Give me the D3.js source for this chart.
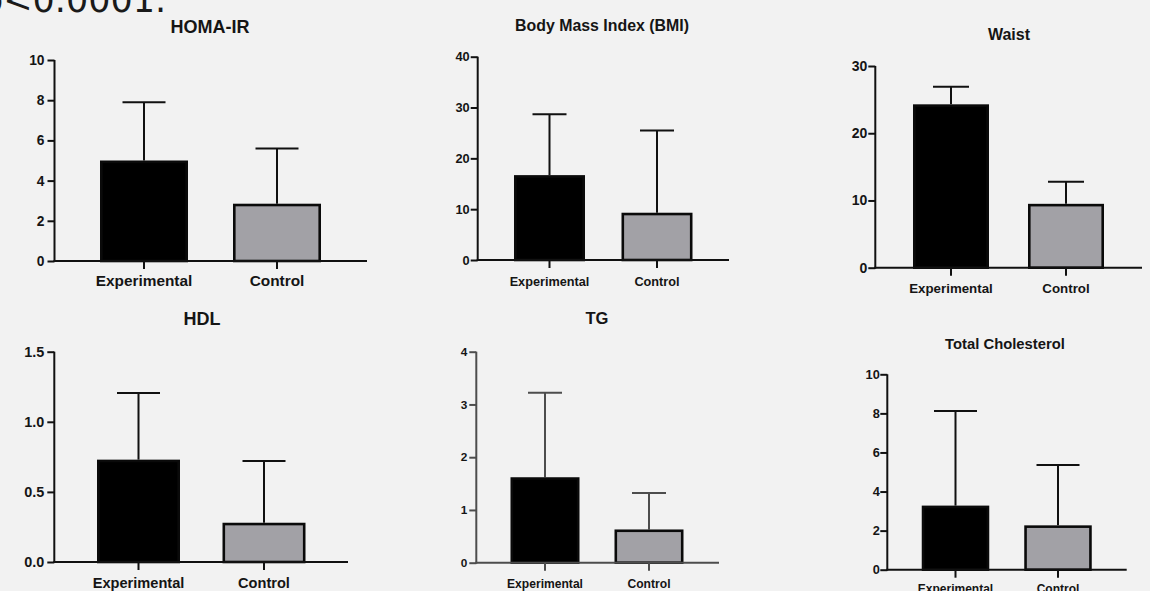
<!DOCTYPE html>
<html>
<head>
<meta charset="utf-8">
<script src="https://cdn.jsdelivr.net/npm/d3@7"></script>
<style>
  html, body { margin: 0; padding: 0; background: #f2f2f2; overflow: hidden; }
  svg { display: block; }
  text { font-family: "Liberation Sans", Arial, Helvetica, sans-serif; font-weight: bold; }
</style>
</head>
<body>
<svg id="chart" width="1150" height="591"></svg>
<script>
// ---------------- data ----------------
const titles = ["HOMA-IR", "Body Mass Index (BMI)", "Waist", "HDL", "TG", "Total Cholesterol"];
const groups = ["Experimental", "Control"];
const meanExperimental = [5.0, 16.7, 24.3, 0.73, 1.62, 3.28];
const meanControl      = [2.85, 9.3, 9.5, 0.28, 0.63, 2.27];
const sdExperimental   = [2.9, 12.0, 2.6, 0.475, 1.6, 4.84];
const sdControl        = [2.75, 16.2, 3.3, 0.44, 0.69, 3.09];
const yMax = [10, 40, 30, 1.5, 4, 10];
const yTicks = [
  [0, 2, 4, 6, 8, 10],
  [0, 10, 20, 30, 40],
  [0, 10, 20, 30],
  [0.0, 0.5, 1.0, 1.5],
  [0, 1, 2, 3, 4],
  [0, 2, 4, 6, 8, 10]
];
const tickFormats = ["d", "d", "d", ".1f", "d", "d"];
const note = "p<0.0001.";

// ---------------- layout (pixel geometry per panel) ----------------
const layout = [
  {ax: 54.5, top: 60,    base: 261,   xEnd: 367,   c: [144, 277],    w: 88, cap: 43, title: [210, 33, 18], cat: [286, 15.4], tick: [13.8, 3], ink: "#111"},
  {ax: 477.7, top: 56.7, base: 260,   xEnd: 729,   c: [549.5, 657],  w: 71, cap: 34, title: [602, 31, 15.9], cat: [286, 12.7], tick: [12.8, 1], ink: "#111"},
  {ax: 875.3, top: 66,   base: 267.7, xEnd: 1142,  c: [951, 1066],   w: 76, cap: 36, title: [1009, 40, 16], cat: [292.7, 13.3], tick: [14, 1], ink: "#111"},
  {ax: 54.3, top: 351.7, base: 562,   xEnd: 348,   c: [138.5, 264],  w: 83, cap: 43, title: [202, 325, 18], cat: [588, 14.6], tick: [14.4, 3], ink: "#111"},
  {ax: 476.3, top: 351.7,base: 562.7, xEnd: 719,   c: [545, 649],    w: 69, cap: 34, title: [597, 324, 16.6], cat: [588, 12.1], tick: [11.8, 2], ink: "#4d4d4d"},
  {ax: 887.3, top: 374.3,base: 569.7, xEnd: 1126.7,c: [955.5, 1058], w: 67.5, cap: 43, title: [1005, 349, 14.8], cat: [593, 12], tick: [12.8, 0.5], ink: "#111"}
];

const fills = {"Experimental": "#000000", "Control": "#a2a1a6"};
const svg = d3.select("#chart");

svg.append("text")
  .attr("x", -19).attr("y", 12)
  .style("font-family", "'DejaVu Sans', sans-serif")
  .style("font-weight", "normal")
  .style("font-size", "35px")
  .attr("fill", "#1a1a1a")
  .text(note);

titles.forEach((title, i) => {
  const L = layout[i];
  const g = svg.append("g");
  const step = L.c[1] - L.c[0];
  const pin = 1 - L.w / step;
  const x = d3.scaleBand().domain(groups)
    .range([L.c[0] - step / 2, L.c[1] + step / 2])
    .paddingInner(pin).paddingOuter(pin / 2);
  const y = d3.scaleLinear().domain([0, yMax[i]]).range([L.base, L.top]);

  const means = [meanExperimental[i], meanControl[i]];
  const sds = [sdExperimental[i], sdControl[i]];
  const rows = groups.map((gname, k) => ({g: gname, m: means[k], sd: sds[k]}));

  const sw = 2.6;
  // error bars (upper only)
  rows.forEach(r => {
    const cx = x(r.g) + x.bandwidth() / 2;
    g.append("line")
      .attr("x1", cx).attr("x2", cx)
      .attr("y1", y(r.m)).attr("y2", y(r.m + r.sd))
      .attr("stroke", L.ink).attr("stroke-width", 2);
    g.append("line")
      .attr("x1", cx - L.cap / 2).attr("x2", cx + L.cap / 2)
      .attr("y1", y(r.m + r.sd)).attr("y2", y(r.m + r.sd))
      .attr("stroke", L.ink).attr("stroke-width", 2);
  });

  // bars
  g.selectAll("rect.bar").data(rows).join("rect")
    .attr("class", "bar")
    .attr("x", d => x(d.g) + sw / 2)
    .attr("width", x.bandwidth() - sw)
    .attr("y", d => y(d.m) + sw / 2)
    .attr("height", d => y(0) - y(d.m) - sw / 2)
    .attr("fill", d => fills[d.g])
    .attr("stroke", "#0a0a0a")
    .attr("stroke-width", sw);

  // y axis
  const yAxis = d3.axisLeft(y).tickValues(yTicks[i])
    .tickFormat(d3.format(tickFormats[i]))
    .tickSize(7).tickSizeOuter(0).tickPadding(L.tick[1]);
  const ya = g.append("g").attr("transform", `translate(${L.ax},0)`).call(yAxis);
  ya.select(".domain").attr("stroke", L.ink).attr("stroke-width", 2)
    .attr("d", `M0,${L.base + 1}V${L.top}`);
  ya.selectAll(".tick line").attr("stroke", L.ink).attr("stroke-width", 2);
  ya.selectAll(".tick text")
    .style("font-size", L.tick[0] + "px").attr("fill", "#151515")
    .attr("font-family", null);

  // x axis
  const xAxis = d3.axisBottom(x).tickSize(8).tickSizeOuter(0).tickFormat("");
  const xa = g.append("g").attr("transform", `translate(0,${L.base})`).call(xAxis);
  xa.select(".domain").attr("stroke", L.ink).attr("stroke-width", 2)
    .attr("d", `M${L.ax - 1},0H${L.xEnd}`);
  xa.selectAll(".tick line").attr("stroke", L.ink).attr("stroke-width", 2);

  // category labels
  g.selectAll("text.cat").data(groups).join("text")
    .attr("class", "cat")
    .attr("x", d => x(d) + x.bandwidth() / 2)
    .attr("y", L.cat[0])
    .attr("text-anchor", "middle")
    .style("font-size", L.cat[1] + "px")
    .attr("fill", "#151515")
    .text(d => d);

  // title
  g.append("text")
    .attr("x", L.title[0]).attr("y", L.title[1])
    .attr("text-anchor", "middle")
    .style("font-size", L.title[2] + "px")
    .attr("fill", "#151515")
    .text(title);
});
</script>
</body>
</html>
